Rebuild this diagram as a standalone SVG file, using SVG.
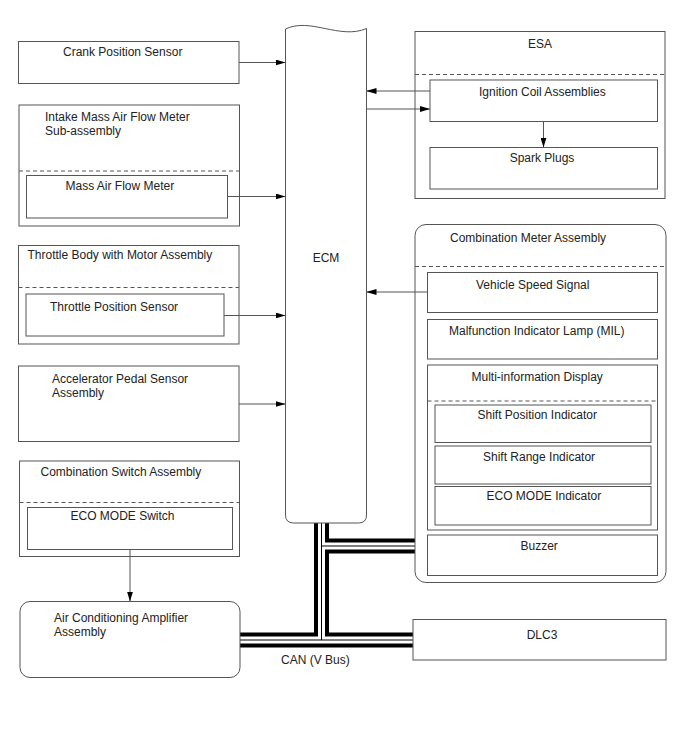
<svg xmlns="http://www.w3.org/2000/svg" width="688" height="755" viewBox="0 0 688 755">
<defs>
<style>
.box{fill:#fff;stroke:#555;stroke-width:1}
.dash{fill:none;stroke:#555;stroke-width:1;stroke-dasharray:4,3}
.t{font-family:"Liberation Sans",Arial,sans-serif;font-size:12px;fill:#222}
.m{text-anchor:middle}
.conn{fill:none;stroke:#555;stroke-width:1}
.busA{fill:none;stroke:#000;stroke-width:15}
.busB{fill:none;stroke:#fff;stroke-width:7}
.busC{fill:none;stroke:#000;stroke-width:1}
</style>
<marker id="arr" markerUnits="userSpaceOnUse" markerWidth="10" markerHeight="6" refX="10" refY="3" orient="auto">
<path d="M0,0 L10,3 L0,6 z" fill="#000"/>
</marker>
</defs>
<rect width="688" height="755" fill="#fff"/>

<g id="bus">
<path class="busA" d="M321.5,523 V640 M240,640 H413 M321.5,546 H415"/>
<path class="busB" d="M321.5,523 V640 M240,640 H413 M321.5,546 H415"/>
<path class="busC" d="M321.5,523 V640 M240,640 H413 M321.5,546 H415"/>
</g>

<g id="ecm">
<path class="box" d="M285.5,29 C310,17 340,40 366.5,28.5 V515 Q366.5,523 358.5,523 H293.5 Q285.5,523 285.5,515 Z"/>
<text class="t m" x="326" y="262">ECM</text>
</g>

<g id="crank">
<rect class="box" x="18.5" y="41.5" width="220.5" height="42"/>
<text class="t" x="63" y="56">Crank Position Sensor</text>
</g>

<g id="intake">
<rect class="box" x="19" y="105" width="220.5" height="121"/>
<text class="t" x="45" y="121">Intake Mass Air Flow Meter</text>
<text class="t" x="45" y="135">Sub-assembly</text>
<line class="dash" x1="19" y1="171" x2="239.5" y2="171"/>
<g id="maf">
<rect class="box" x="26.5" y="175.5" width="201" height="42.5"/>
<text class="t" x="65.5" y="189.5">Mass Air Flow Meter</text>
</g>
</g>

<g id="throttle">
<rect class="box" x="18.5" y="245.5" width="220.5" height="98.5"/>
<text class="t" x="27.5" y="258.5">Throttle Body with Motor Assembly</text>
<line class="dash" x1="18.5" y1="287.5" x2="239" y2="287.5"/>
<g id="tps">
<rect class="box" x="26" y="294" width="198" height="42"/>
<text class="t" x="50" y="311">Throttle Position Sensor</text>
</g>
</g>

<g id="accel">
<rect class="box" x="18.5" y="366" width="220.5" height="75.5"/>
<text class="t" x="52" y="382.5">Accelerator Pedal Sensor</text>
<text class="t" x="52" y="396.5">Assembly</text>
</g>

<g id="combswitch">
<rect class="box" x="19.5" y="461" width="220" height="95.5"/>
<text class="t" x="40.5" y="476">Combination Switch Assembly</text>
<line class="dash" x1="19.5" y1="502.5" x2="239.5" y2="502.5"/>
<g id="ecoswitch">
<rect class="box" x="27.5" y="507.5" width="205" height="42"/>
<text class="t" x="70.5" y="520">ECO MODE Switch</text>
</g>
</g>

<g id="acamp">
<rect class="box" x="20" y="601.5" width="220" height="76" rx="10" ry="10"/>
<text class="t" x="54" y="622">Air Conditioning Amplifier</text>
<text class="t" x="54" y="636">Assembly</text>
</g>

<g id="esa">
<rect class="box" x="415" y="31.5" width="250" height="167"/>
<text class="t m" x="540" y="48">ESA</text>
<line class="dash" x1="415" y1="74.5" x2="665" y2="74.5"/>
<g id="ignition">
<rect class="box" x="430" y="80" width="227.5" height="41.5"/>
<text class="t" x="479" y="96">Ignition Coil Assemblies</text>
</g>
<g id="spark">
<rect class="box" x="430" y="147.5" width="227.5" height="41.5"/>
<text class="t m" x="542" y="162">Spark Plugs</text>
</g>
</g>

<g id="combmeter">
<rect class="box" x="415" y="224.5" width="251" height="358" rx="11" ry="11"/>
<text class="t" x="450" y="242">Combination Meter Assembly</text>
<line class="dash" x1="415" y1="266.5" x2="666" y2="266.5"/>
<g id="vss">
<rect class="box" x="427.5" y="272.5" width="230" height="40"/>
<text class="t" x="476" y="288.5">Vehicle Speed Signal</text>
</g>
<g id="mil">
<rect class="box" x="427.5" y="319.5" width="230" height="39.5"/>
<text class="t" x="449" y="334.5">Malfunction Indicator Lamp (MIL)</text>
</g>
<g id="mid">
<rect class="box" x="427.5" y="365" width="230" height="165"/>
<text class="t" x="471.5" y="381">Multi-information Display</text>
<line class="dash" x1="427.5" y1="401" x2="657.5" y2="401"/>
<g id="spi">
<rect class="box" x="435" y="405" width="216" height="37.5"/>
<text class="t" x="477.5" y="418.5">Shift Position Indicator</text>
</g>
<g id="sri">
<rect class="box" x="435" y="446" width="216" height="38"/>
<text class="t" x="483" y="461">Shift Range Indicator</text>
</g>
<g id="ecoind">
<rect class="box" x="435" y="486.5" width="216" height="38.5"/>
<text class="t" x="486.5" y="499.5">ECO MODE Indicator</text>
</g>
</g>
<g id="buzzer">
<rect class="box" x="427.5" y="535" width="230" height="40.5"/>
<text class="t" x="520.5" y="549.5">Buzzer</text>
</g>
</g>

<g id="dlc3">
<rect class="box" x="413" y="619.5" width="253" height="40.5"/>
<text class="t m" x="542" y="638.5">DLC3</text>
</g>

<text class="t" x="281" y="663.5">CAN (V Bus)</text>

<g id="connectors">
<line class="conn" x1="239" y1="62.5" x2="285.5" y2="62.5" marker-end="url(#arr)"/>
<line class="conn" x1="227.5" y1="196.5" x2="285.5" y2="196.5" marker-end="url(#arr)"/>
<line class="conn" x1="224" y1="315.5" x2="285.5" y2="315.5" marker-end="url(#arr)"/>
<line class="conn" x1="239" y1="404" x2="285.5" y2="404" marker-end="url(#arr)"/>
<line class="conn" x1="430" y1="91" x2="366.5" y2="91" marker-end="url(#arr)"/>
<line class="conn" x1="366.5" y1="109" x2="430" y2="109" marker-end="url(#arr)"/>
<line class="conn" x1="543.5" y1="121.5" x2="543.5" y2="147.5" marker-end="url(#arr)"/>
<line class="conn" x1="427.5" y1="292" x2="366.5" y2="292" marker-end="url(#arr)"/>
<line class="conn" x1="130" y1="549.5" x2="130" y2="601.5" marker-end="url(#arr)"/>
</g>
</svg>
